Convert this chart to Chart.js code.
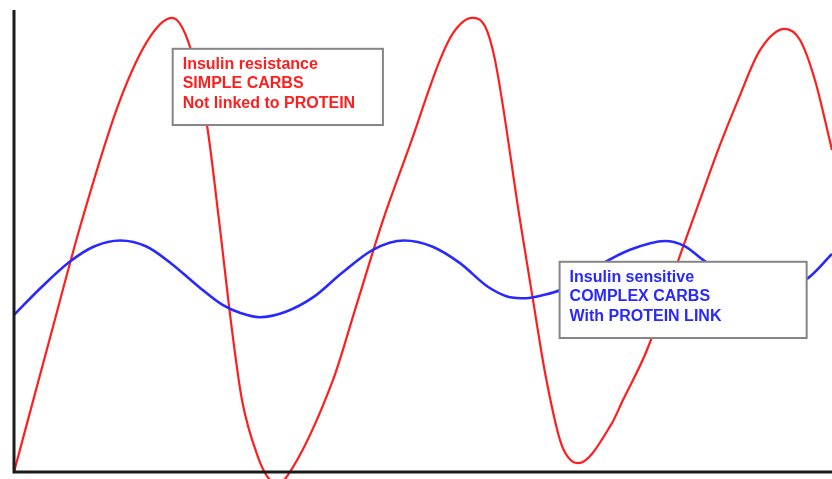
<!DOCTYPE html>
<html>
<head>
<meta charset="utf-8">
<script src="https://cdn.jsdelivr.net/npm/chart.js@4/dist/chart.umd.min.js"></script>
<style>
    html, body { margin: 0; padding: 0; background: #fff; }
    #wrap { width: 832px; height: 479px; position: relative; }
</style>
</head>
<body>
<div id="wrap"><canvas id="chart"></canvas></div>
<script>
// Insulin resistance / simple carbs curve (time 0-100, level 0-100)
const resistanceTime = [
    0, 4.65, 8.31, 12.96, 16.63, 19.32, 21.52, 23.59, 25.06, 26.65, 27.87, 29.83, 30.93,
    32.15, 33.5, 38.99, 41.69, 45.11, 48.41, 52.08, 53.67, 55.99, 57.58, 58.8, 61.86,
    63.45, 64.91, 66.75, 67.73, 68.95, 72.98, 74.45, 77.38, 81.66, 83.86,
    86.31, 88.51, 91.2, 94.25, 96.09, 97.92, 100
];
const resistanceLevel = [
    0, 30.7, 54.5, 80.5, 94.2, 98.3, 92.0, 75.1, 54.5, 30.7, 15.6, 3.2, -0.9,
    -2.6, -0.6, 19.9, 35.1, 54.5, 70.8, 89.2, 95.0, 98.3, 96.5, 89.2, 54.5,
    37.2, 21.6, 6.9, 3.2, 1.9, 10.2, 15.6, 26.4, 48.1, 58.9,
    70.8, 80.5, 91.3, 95.9, 93.5, 84.8, 69.7
];

// Insulin sensitive / complex carbs curve
const sensitiveTime = [
    0, 3.41, 6.81, 9.79, 13.0, 16.19, 19.17, 22.58, 25.56, 27.69, 30.02, 33.23, 36.64,
    40.04, 43.87, 47.7, 51.11, 54.52, 57.93, 60.49, 62.62, 64.74, 66.78, 69.19, 71.64,
    75.31, 79.58, 81.99, 84.23, 88.75, 92.67, 96.94, 100
];
const sensitiveLevel = [
    34.0, 40.1, 45.5, 48.8, 50.1, 48.8, 45.2, 40.1, 36.1, 34.4, 33.5, 34.7, 37.9,
    43.0, 48.1, 50.1, 48.8, 45.2, 40.1, 37.9, 37.6, 38.3, 39.4, 42.0, 44.8,
    48.1, 50.0, 48.9, 45.9, 40.9, 39.0, 41.8, 47.2
];

const resistanceLabels = ['Insulin resistance', 'SIMPLE CARBS', 'Not linked to PROTEIN'];
const sensitiveLabels = ['Insulin sensitive', 'COMPLEX CARBS', 'With PROTEIN LINK'];

const RED = 'rgb(255, 30, 30)';
const BLUE = 'rgb(40, 40, 255)';

// note boxes, in data units: [left, top, right, bottom]
const notes = [
    { box: [19.4, 91.6, 45.1, 75.1], lines: resistanceLabels, color: RED },
    { box: [66.7, 45.5, 96.9, 29.0], lines: sensitiveLabels, color: BLUE }
];

function toPoints(xs, ys) {
    return xs.map((x, i) => ({ x: x, y: ys[i] }));
}

const axesAndNotes = {
    id: 'axesAndNotes',
    afterDatasetsDraw(chart) {
        const ctx = chart.ctx;
        const area = chart.chartArea;
        const xs = chart.scales.x;
        const ys = chart.scales.y;

        ctx.save();
        ctx.strokeStyle = '#1a1a1a';
        ctx.lineWidth = 3;
        ctx.beginPath();
        ctx.moveTo(area.left, area.top);
        ctx.lineTo(area.left, area.bottom);
        ctx.lineTo(area.right, area.bottom);
        ctx.stroke();

        for (const note of notes) {
            const l = xs.getPixelForValue(note.box[0]);
            const t = ys.getPixelForValue(note.box[1]);
            const r = xs.getPixelForValue(note.box[2]);
            const b = ys.getPixelForValue(note.box[3]);
            ctx.fillStyle = '#fff';
            ctx.fillRect(l, t, r - l, b - t);
            ctx.strokeStyle = '#858585';
            ctx.lineWidth = 2;
            ctx.strokeRect(l, t, r - l, b - t);

            ctx.fillStyle = note.color;
            ctx.font = 'bold 16px "Liberation Sans", Arial, sans-serif';
            ctx.textBaseline = 'alphabetic';
            note.lines.forEach((line, i) => {
                ctx.fillText(line, l + 10, t + 20 + i * 19.5);
            });
        }
        ctx.restore();
    }
};

new Chart(document.getElementById('chart'), {
    type: 'line',
    data: {
        datasets: [
            {
                label: 'Insulin sensitive',
                data: toPoints(sensitiveTime, sensitiveLevel),
                borderColor: BLUE,
                borderWidth: 2.6,
                pointRadius: 0,
                fill: false,
                cubicInterpolationMode: 'monotone',
                clip: false
            },
            {
                label: 'Insulin resistance',
                data: toPoints(resistanceTime, resistanceLevel),
                borderColor: RED,
                borderWidth: 2.2,
                pointRadius: 0,
                fill: false,
                cubicInterpolationMode: 'monotone',
                clip: false
            }
        ]
    },
    options: {
        responsive: true,
        maintainAspectRatio: false,
        animation: false,
        layout: { padding: { left: 14, top: 10, right: 0, bottom: 7 } },
        plugins: {
            legend: { display: false },
            tooltip: { enabled: false }
        },
        scales: {
            x: { type: 'linear', min: 0, max: 100, display: false },
            y: { type: 'linear', min: 0, max: 100, display: false }
        }
    },
    plugins: [axesAndNotes]
});
</script>
</body>
</html>
